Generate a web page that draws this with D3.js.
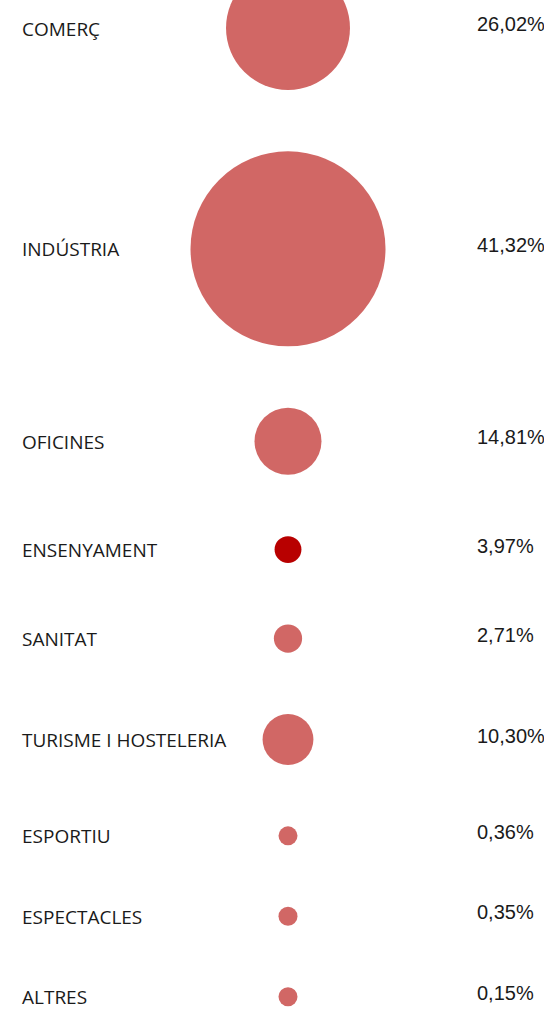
<!DOCTYPE html>
<html>
<head>
<meta charset="utf-8">
<script src="https://cdn.jsdelivr.net/npm/d3@7"></script>
<style>
  html, body { margin: 0; padding: 0; background: #fff; overflow: hidden; }
  svg { display: block; }
</style>
</head>
<body>
<svg id="chart" width="544" height="1017"></svg>
<script>
// ---- data ----
const categories = ["COMERÇ", "INDÚSTRIA", "OFICINES", "ENSENYAMENT", "SANITAT",
  "TURISME I HOSTELERIA", "ESPORTIU", "ESPECTACLES", "ALTRES"];
const percents = [26.02, 41.32, 14.81, 3.97, 2.71, 10.30, 0.36, 0.35, 0.15];
// relative bubble weight (area)
const bubbleSizes = [40.4, 100, 11.8, 1.9, 2.1, 6.8, 0.95, 0.95, 0.95];
const highlighted = "ENSENYAMENT";

// ---- layout ----
const W = 544, H = 1017;
const cx = 288, labelX = 22, pctX = 477;
const firstY = 28, gap = 61.4;
const svg = d3.select("#chart");

const r = d3.scaleSqrt().domain([0, d3.max(bubbleSizes)]).range([0, 97.5]);
const color = d3.scaleOrdinal().domain([false, true]).range(["#d16765", "#b80000"]);
const locale = d3.formatLocale({decimal: ",", thousands: ".", grouping: [3], currency: ["", "€"]});
const fmt = locale.format(".2f");

const rows = categories.map((c, i) => ({cat: c, pct: percents[i], rad: r(bubbleSizes[i])}));
let y = firstY;
rows.forEach((d, i) => {
  if (i > 0) y += rows[i - 1].rad + gap + d.rad;
  d.y = y;
});

const g = svg.selectAll("g.row").data(rows).join("g").attr("class", "row");

g.append("circle")
  .attr("cx", cx)
  .attr("cy", d => d.y)
  .attr("r", d => d.rad)
  .attr("fill", d => color(d.cat === highlighted));

g.append("text")
  .attr("x", labelX)
  .attr("y", d => d.y + 7.5)
  .attr("font-family", "'Open Sans', sans-serif")
  .attr("font-size", 19)
  .attr("fill", "#1a1a1a")
  .text(d => d.cat);

g.append("text")
  .attr("x", pctX)
  .attr("y", d => d.y + 3)
  .attr("font-family", "'Liberation Sans', Arial, sans-serif")
  .attr("font-size", 20)
  .attr("fill", "#1a1a1a")
  .text(d => fmt(d.pct) + "%");
</script>
</body>
</html>
